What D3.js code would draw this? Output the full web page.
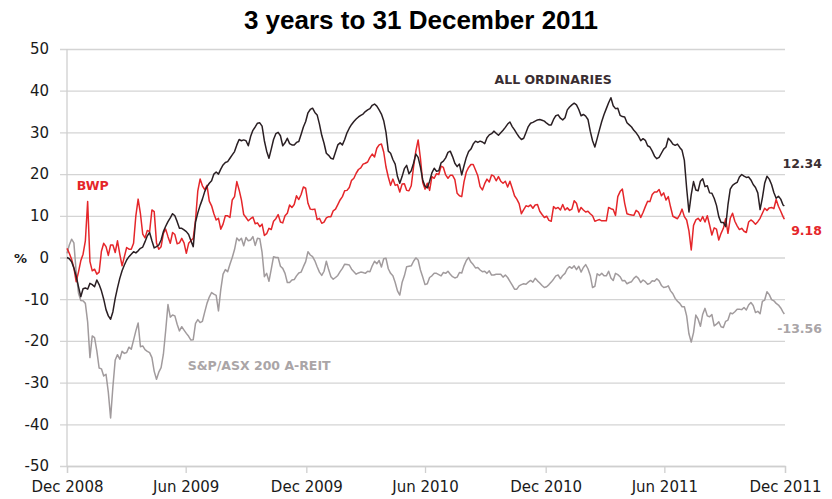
<!DOCTYPE html>
<html>
<head>
<meta charset="utf-8">
<script src="https://cdn.jsdelivr.net/npm/d3@7"></script>
<style>
  body { margin: 0; background: #fff; }
  svg { display: block; }
</style>
</head>
<body>
<svg id="chart" width="832" height="499"></svg>
<script>
// 3 years to 31 December 2011 - BWP vs All Ordinaries vs S&P/ASX 200 A-REIT
// readings twice a week (% change since 31 Dec 2008), last value is 30 Dec 2011

const startDate = new Date(2008, 11, 31);
const endDate = new Date(2011, 11, 31);
const lastDate = new Date(2011, 11, 30);

const allOrds = [
  0, -0.3, -1, -2.5, -4.5, -7, -9.4, -7.5, -7.3, -7.6, -6.2, -6.5, -7, -5.4, -6.5, -8, -10, -12.5, -14, -14.8, -13, -9.8, -7.3, -5, -3.2,
  -1.8, -0.6, 0.2, 0.8, 1.4, 1.1, 1.6, 2.2, 2.5, 3.8, 5.2, 6, 4, 2.3, 2.6, 3, 4.2, 6.2, 7.5, 8.6, 9.5, 10.5, 10, 8.6, 7, 7,
  6.6, 6.2, 5.5, 4, 2.6, 8.5, 10.7, 12.5, 14, 15.8, 17, 17.8, 18.4, 20, 20.5, 20, 21.2, 22.2, 22.8, 23, 23.8, 24.6, 25.4, 27, 28.3, 28, 28.2,
  28, 26.8, 29, 30.5, 31.3, 32.2, 32.3, 31.5, 28, 25.5, 23.8, 26, 28.3, 29.7, 30, 29.2, 26.8, 27.5, 28.6, 27.3, 27, 27, 27.6, 27.8, 29.5, 31.3, 32.6,
  34.7, 35.5, 35.8, 34.8, 34.2, 32, 29.3, 27.4, 25, 24.5, 23.8, 23.6, 25.3, 27, 27.5, 27, 28.3, 29.9, 31, 31.9, 32.6, 33.2, 33.7, 34.1, 34.4, 35,
  35.4, 35.7, 36.5, 36.8, 36.3, 35.4, 34.4, 32.8, 30, 25.5, 25, 23.5, 22.4, 19.4, 17.8, 19.4, 21.3, 22.1, 20.1, 20.8, 22.6, 24.8, 24, 21.7, 18.6, 17.1,
  16.7, 18.3, 20.3, 21.4, 20.7, 20.8, 22.7, 23.1, 23.9, 25.2, 25.5, 24.2, 22.6, 21.8, 22.4, 19.8, 22, 24, 25.4, 26, 27.2, 27.9, 27.6, 27.9, 27.7, 27.3,
  28.7, 29.4, 29.7, 30.3, 29.8, 29.3, 29.9, 30.5, 31.2, 32, 32.5, 31.4, 30.6, 29.7, 28.9, 28.3, 28.6, 30, 31.4, 32.2, 32.4, 32.7, 33, 33.1, 32.9, 32.7,
  32.2, 31.8, 31.8, 33.1, 34, 34.2, 33.4, 33, 33.5, 35.4, 36.1, 36.6, 37, 36.6, 35.5, 34, 34.3, 33.9, 33.1, 30.3, 28, 26.5, 28.5, 30.6, 32.6, 34.3,
  35.7, 37.1, 38.3, 36.4, 35.7, 35.8, 34.1, 33.8, 33.7, 32.3, 31.8, 31.3, 30.5, 29.9, 29.1, 28, 28.5, 28.1, 26.8, 26.5, 25.5, 24.3, 23.7, 24, 25, 26,
  26.5, 28.6, 28, 27.2, 26.9, 27.2, 26.4, 25.7, 23.3, 16.6, 10.9, 15.1, 18.2, 16.2, 16, 18.3, 18.9, 17, 17.2, 15.5, 15.4, 14.2, 12.5, 9.8, 8.4, 8.4,
  7.4, 12.6, 16.4, 17.3, 17.7, 18, 19.3, 19.9, 19.5, 19.2, 19.3, 18.6, 17.5, 16.8, 15.5, 11.5, 14.3, 17.8, 19.5, 18.8, 17.5, 15.6, 14.2, 14.7, 14, 12.6,
  12.34
];

const bwp = [
  2.2, 1, -0.4, -2.5, -5.8, -3.5, -0.8, 0.8, 4, 13.4, -1, -3.2, -2.8, -4, -3.5, 1.5, 3.4, 2.6, 0.5, 3, 3, 1.2, 4, 0.8, -2,
  0.2, 2.4, 2, 2, 3.4, 10, 14, 10.5, 5.6, 4.7, 6.5, 6.2, 11.4, 11, 3.5, 2, 2.6, 5.8, 6.8, 5, 3.4, 6, 5.5, 3.3, 3.5, 4.6,
  3.5, 1, 3.4, 4, 4.6, 9, 16, 18.8, 17.2, 16.3, 17.3, 13.5, 12.4, 10.5, 9, 9.4, 6.8, 8, 10, 10, 9.6, 13.8, 14.6, 18.2, 16.2, 13.8, 10.3,
  9.6, 8.8, 9.3, 9.7, 8.1, 8.3, 7.4, 8, 5.3, 5.7, 7, 6.7, 8.7, 9.3, 10.3, 8.5, 8.3, 10, 10.6, 12.6, 12, 12.7, 14.8, 13.9, 15.1, 16.9, 16.6,
  13, 11.6, 11.5, 11.6, 9.1, 9.4, 8.2, 8.5, 9.5, 9.8, 9.8, 11.2, 11.6, 12.7, 13.8, 14.6, 16, 16.1, 16.8, 18.5, 19, 20.2, 21.1, 21.5, 22.4, 22.6,
  22.9, 24, 24.8, 24.1, 26.2, 27, 27.2, 25.3, 21.7, 19.3, 17.3, 18.8, 17.3, 17.5, 15.7, 17.6, 17.7, 16.1, 16, 17.2, 21.7, 25.5, 28.2, 23.8, 18, 16.4,
  17.8, 16.1, 19.4, 19, 20.1, 19.9, 21.9, 21.6, 19.8, 19, 19.7, 19.7, 18.7, 15.4, 14.8, 14.6, 18.2, 20.5, 21.6, 22.3, 22.3, 21, 19.6, 17, 16.2, 17.7,
  18.8, 18.1, 19.8, 19.5, 18.4, 19.4, 18.3, 17.8, 18.3, 16.9, 18.3, 16.6, 14.8, 14, 12.9, 10.5, 11.5, 12.4, 12.2, 12.6, 11.8, 12.6, 12.7, 11.1, 10.3, 9.6,
  9.9, 8.9, 8.7, 12.2, 11.7, 12, 11.4, 12.7, 11.4, 11.9, 11.3, 11.6, 13.6, 13, 10.9, 12, 11.4, 10.9, 11.1, 10.5, 10, 8.7, 8.9, 9.1, 8.8, 8.8,
  8.8, 12, 11.7, 11.5, 10.1, 14.6, 15.8, 16.4, 13, 10.5, 10.3, 10.2, 10.1, 11.3, 10.9, 9.6, 10.8, 12.2, 13.5, 13.4, 15.1, 15.7, 15.7, 16.3, 14.8, 15.5,
  13.8, 14.6, 12.1, 9.9, 9.6, 9.3, 10.2, 11.6, 9.8, 9, 6.4, 1.8, 7.7, 9, 9.4, 8.7, 9.8, 8.5, 10, 7.8, 5.4, 7.1, 6.8, 4.2, 5.8, 7,
  9.3, 5.8, 9.4, 10.6, 8.7, 7.6, 6.7, 7, 6.3, 6, 8.5, 9, 8.6, 8, 8.6, 9.4, 10.6, 11.8, 11.3, 11.9, 12, 11.7, 13.9, 12.3, 11.1, 9.8,
  9.18
];

const areit = [
  1, 3, 4.4, 3.5, -3.5, -8.5, -10.3, -10.4, -11, -15.5, -24, -18.8, -19.2, -22.4, -26.5, -26.7, -28.4, -28, -32.3, -38.5, -31, -24.6, -23.3, -24.4, -22.5,
  -23, -22.8, -21.5, -22, -19.8, -17.6, -15.7, -21.4, -21.2, -22.1, -22.5, -22.8, -24, -27.3, -29.2, -27.5, -26.4, -23.2, -17.5, -11.3, -14.3, -13.8, -14, -16, -17.6, -16.6,
  -17.4, -18.2, -18.9, -19.8, -19.7, -15.8, -14.9, -15.6, -15.3, -13.1, -11, -9.5, -8.4, -8.8, -9.1, -12.8, -7.7, -4, -2.9, -3.4, -1.6, 0, 1.9, 4.7, 4, 4.6, 2.8,
  4.8, 4, 4.2, 5, 2.9, 4.6, 4.5, 1.2, -4.6, -3.8, -5.7, -2.8, 0.2, 0, 0, -2.1, -2.6, -3.8, -6, -6, -5.4, -5.3, -4.4, -3.7, -3.5, -2.2, -1,
  1.4, 0.6, 0.2, -0.8, -2.2, -3.5, -4.3, -3.3, -0.9, -2.9, -4.6, -5.2, -4.8, -4.3, -3.4, -2.6, -1.6, -1.7, -1.8, -2.8, -3.4, -4, -3.7, -3.5, -3.6, -3.8,
  -3.3, -3.4, -2, -0.9, -1.5, -0.7, -2.3, -0.3, -0.2, -2.7, -3.8, -4.4, -6, -8, -9, -6, -4.4, -2.2, -2.1, -2, -0.9, -0.1, -0.6, -3, -4.7, -6.5,
  -6.3, -4.8, -4.4, -3.8, -3.8, -4.1, -4.4, -3.6, -3.8, -3.3, -4, -4.6, -4.9, -4.7, -3.6, -3.7, -2, -0.7, 0, -1.1, -1.7, -2.5, -2.4, -3, -3.4, -3.3,
  -3.8, -3.2, -4.2, -4.2, -4, -4, -4, -4.7, -4.2, -4.8, -5.7, -6.6, -7.6, -7.6, -6.8, -6.5, -6.3, -6.4, -5.9, -5.5, -5.9, -5, -5.6, -6.1, -6.7, -7.2,
  -7, -6.5, -5.9, -5.2, -4.4, -4.2, -5.1, -4.3, -3.8, -2.7, -2.2, -2.6, -2, -2.9, -2.1, -3.5, -2.4, -1.7, -2.7, -4.3, -7.2, -6.9, -3.9, -4.3, -3.8, -4.4,
  -4.4, -3.3, -4.9, -5.5, -3.8, -4.1, -4.6, -5.6, -5.5, -6.3, -6, -5.8, -5, -4.5, -5, -6, -5.4, -5.8, -6.4, -6.2, -5.6, -5.7, -5.1, -5.6, -6.7, -7.2,
  -7.1, -6.8, -8, -8.7, -9.8, -10.5, -11, -11.8, -11.8, -14, -18.3, -20.3, -18, -13.8, -14.8, -16.5, -13.6, -12.2, -14, -14.2, -13.7, -16.4, -16, -15.4, -16.6, -16.8,
  -15.3, -15, -13.3, -13.5, -13, -12.4, -12.4, -12.5, -12, -12.6, -11.4, -10.8, -11.5, -13.2, -12.9, -13.5, -10.5, -10.2, -8.2, -8.9, -10.1, -10.4, -11, -11.4, -12.1, -13.1,
  -13.56
];

const xTickDates = [
  new Date(2008, 11, 31), new Date(2009, 5, 30), new Date(2009, 11, 31),
  new Date(2010, 5, 30), new Date(2010, 11, 31), new Date(2011, 5, 30), new Date(2011, 11, 31)
];
const xTickLabels = ["Dec 2008", "Jun 2009", "Dec 2009", "Jun 2010", "Dec 2010", "Jun 2011", "Dec 2011"];
const yTicks = [50, 40, 30, 20, 10, 0, -10, -20, -30, -40, -50];

// date of reading i: every 3.5 days from the start, the last one is 30 Dec 2011
const dateAt = (i, n) => i < n - 1 ? d3.timeHour.offset(startDate, 84 * i) : lastDate;

const svg = d3.select("#chart"),
  margin = {top: 49, right: 47, bottom: 33, left: 67},
  width = +svg.attr("width") - margin.left - margin.right,
  height = +svg.attr("height") - margin.top - margin.bottom;
const g = svg.append("g").attr("transform", `translate(${margin.left},${margin.top})`);

const x = d3.scaleTime().domain([startDate, endDate]).range([0, width]);
const y = d3.scaleLinear().domain([-50, 50]).range([height, 0]);

const axisFont = "'DejaVu Sans', Verdana, sans-serif";

// title
svg.append("text")
  .attr("x", 421)
  .attr("y", 29)
  .attr("text-anchor", "middle")
  .attr("font-family", "'Liberation Sans', Arial, sans-serif")
  .attr("font-weight", "bold")
  .attr("font-size", 26)
  .attr("fill", "#000")
  .text("3 years to 31 December 2011");

// gridlines + y labels (plain hyphen for negatives)
const yAxis = g.append("g")
  .call(d3.axisLeft(y).tickValues(yTicks).tickFormat(d => String(d)).tickSizeOuter(0).tickPadding(12))
  .call(a => a.select(".domain").remove());
yAxis.selectAll(".tick line")
  .attr("x1", -7)
  .attr("x2", width)
  .attr("stroke", "#d4d4d4")
  .attr("stroke-width", 1.3);
yAxis.selectAll(".tick text")
  .attr("font-family", axisFont)
  .attr("font-size", 15)
  .attr("fill", "#1a1a1a");

// vertical axis line
g.append("line")
  .attr("x1", 0).attr("x2", 0)
  .attr("y1", 0).attr("y2", height)
  .attr("stroke", "#cfcfcf")
  .attr("stroke-width", 1.3);

// bottom axis
const xAxis = g.append("g")
  .attr("transform", `translate(0,${height})`)
  .call(d3.axisBottom(x).tickValues(xTickDates).tickFormat((d, i) => xTickLabels[i]).tickSize(7).tickPadding(8));
xAxis.select(".domain").attr("stroke", "#cfcfcf").attr("stroke-width", 1.3);
xAxis.selectAll(".tick line").attr("stroke", "#cfcfcf").attr("stroke-width", 1.3);
xAxis.selectAll(".tick text")
  .attr("font-family", axisFont)
  .attr("font-size", 15)
  .attr("fill", "#1a1a1a");

// % label
svg.append("text")
  .attr("x", 14)
  .attr("y", 263)
  .attr("font-family", axisFont)
  .attr("font-weight", "bold")
  .attr("font-size", 13)
  .attr("fill", "#1a1a1a")
  .text("%");

const series = [
  {name: "S&P/ASX 200 A-REIT", values: areit, color: "#a19b9d"},
  {name: "BWP", values: bwp, color: "#e5262a"},
  {name: "ALL ORDINARIES", values: allOrds, color: "#2a1f23"}
];

g.selectAll(".series")
  .data(series)
  .enter()
  .append("path")
  .attr("class", "series")
  .attr("fill", "none")
  .attr("stroke", d => d.color)
  .attr("stroke-width", 1.5)
  .attr("stroke-linejoin", "round")
  .attr("d", d => d3.line()
    .x((v, i) => x(dateAt(i, d.values.length)))
    .y(v => y(v))(d.values));

// series labels
const labelFont = "'DejaVu Sans', Verdana, sans-serif";
g.append("text")
  .attr("x", x(new Date(2010, 9, 14)))
  .attr("y", y(41.5))
  .attr("font-family", labelFont).attr("font-weight", "bold").attr("font-size", 12.5)
  .attr("fill", "#3a2e32")
  .text("ALL ORDINARIES");
g.append("text")
  .attr("x", x(new Date(2009, 0, 15)))
  .attr("y", y(16.2))
  .attr("font-family", labelFont).attr("font-weight", "bold").attr("font-size", 12.5)
  .attr("fill", "#e5262a")
  .text("BWP");
g.append("text")
  .attr("x", x(new Date(2009, 6, 3)))
  .attr("y", y(-27))
  .attr("font-family", labelFont).attr("font-weight", "bold").attr("font-size", 12.5)
  .attr("fill", "#aaa5a7")
  .text("S&P/ASX 200 A-REIT");

// end values
const endLabels = [
  {text: "12.34", v: 21.4, color: "#3a2e32"},
  {text: "9.18", v: 5.3, color: "#e5262a"},
  {text: "-13.56", v: -18, color: "#aaa5a7"}
];
g.selectAll(".endlabel")
  .data(endLabels)
  .enter()
  .append("text")
  .attr("class", "endlabel")
  .attr("x", width + 37)
  .attr("y", d => y(d.v))
  .attr("text-anchor", "end")
  .attr("font-family", labelFont)
  .attr("font-weight", "bold")
  .attr("font-size", 12.5)
  .attr("fill", d => d.color)
  .text(d => d.text);
</script>
</body>
</html>
